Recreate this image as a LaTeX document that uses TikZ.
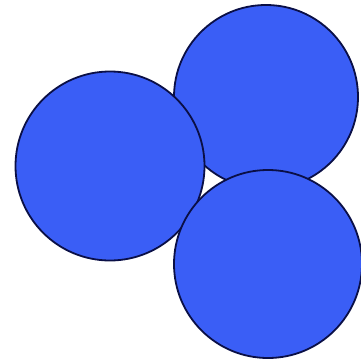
\documentclass[tikz,border=0pt]{standalone}
\definecolor{ballblue}{RGB}{58,94,246}
\definecolor{ballline}{RGB}{10,15,70}
\tikzset{ball/.style={circle, draw=ballline, line width=1.8pt, fill=ballblue, inner sep=0pt}}
\begin{document}
\begin{tikzpicture}[x=1pt,y=-1pt]
\useasboundingbox (0,0) rectangle (361,361);
\clip (0,0) rectangle (361,361);
\fill[white] (0,0) rectangle (361,361);
\node[ball, minimum size=184pt] (tr) at (266,97) {};
\node[ball, minimum size=189pt] (l) at (110,166) {};
\node[ball, minimum size=188pt] (br) at (268,264) {};
\end{tikzpicture}
\end{document}
